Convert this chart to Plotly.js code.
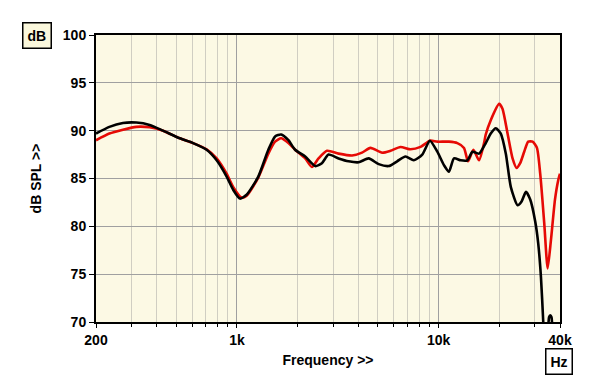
<!DOCTYPE html>
<html>
<head>
<meta charset="utf-8">
<script src="https://cdn.plot.ly/plotly-3.0.1.min.js"></script>
<style>html,body{margin:0;padding:0;background:#fff}#chart{width:600px;height:389px}</style>
</head>
<body>
<div id="chart"></div>
<script>
// Frequencies (Hz) and levels (dB SPL)
var blackFreq = [200,233,272,317,369,430,520,606,707,793,889,959,1035,1117,1276,1431,1546,1656,1800,1943,2180,2444,2638,2846,3192,3578,4014,4501,5047,5659,6230,6852,7536,8296,9055,9854,10628,11254,11920,12870,13897,14714,15873,17134,18140,19214,20348,21548,22820,24640,25796,27104,28470,30140,31200,32180,33040,33680,34700,35300,35800,36300,36900,37500,38640,40000];
var blackDB   = [89.7,90.4,90.8,90.85,90.6,90.0,89.2,88.7,88.0,86.9,85.2,83.8,82.9,83.3,85.2,88.0,89.4,89.6,89.0,88.0,87.3,86.3,86.6,87.5,87.1,86.8,86.7,87.1,86.5,86.3,86.8,87.3,86.9,87.5,88.95,87.8,86.4,85.7,87.1,86.9,86.9,87.8,87.6,88.7,89.7,90.25,89.7,87.6,84.1,82.2,82.6,83.6,82.8,80.5,78.2,74.7,70.0,66.0,68.0,70.5,70.7,70.5,68.0,66.0,64.0,64.0];

var redFreq = [200,233,272,317,369,430,520,606,707,793,889,959,1056,1117,1276,1431,1546,1656,1800,1943,2180,2353,2538,2796,3192,3722,4172,4590,5248,5772,6471,7258,8140,9055,9854,11254,12390,13366,13992,14880,15873,16804,17134,18140,19954,20740,21980,23270,24366,25380,26580,27830,29260,30740,31910,33420,34740,36090,37770,39220,40000];
var redDB   = [89.0,89.7,90.1,90.4,90.35,90.0,89.2,88.7,88.05,87.1,85.5,84.1,83.0,83.2,85.1,87.6,88.85,89.2,88.7,88.0,87.1,86.2,87.1,87.9,87.6,87.4,87.7,88.2,87.7,87.9,88.3,88.05,88.3,88.95,88.85,88.85,88.7,88.2,86.8,88.0,86.9,88.7,89.6,91.1,92.8,92.3,89.7,87.1,86.1,86.6,87.8,88.85,88.85,88.2,85.5,80.3,75.6,78.6,82.8,84.85,85.5];

var xTickVals = [200,1000,10000,40000];
var xTickText = ["200","1k","10k","40k"];
var xMinorVals = [300,400,500,600,700,800,900,2000,3000,4000,5000,6000,7000,8000,9000,20000,30000];

var traces = [
  {x: redFreq, y: redDB, type:'scatter', mode:'lines', line:{color:'#e60a05', width:2.6, shape:'spline', smoothing:0.6}, hoverinfo:'skip', cliponaxis:true},
  {x: blackFreq, y: blackDB, type:'scatter', mode:'lines', line:{color:'#000000', width:2.6, shape:'spline', smoothing:0.6}, hoverinfo:'skip', cliponaxis:true}
];

var tickFont = {family:'Liberation Sans, Arial, sans-serif', size:14, color:'#000', weight:'bold'};

var layout = {
  width:600, height:389,
  margin:{l:96, r:40, t:35, b:67},
  paper_bgcolor:'#ffffff',
  plot_bgcolor:'#fcf9e4',
  showlegend:false,
  xaxis:{
    type:'log', range:[Math.log10(200), Math.log10(40000)],
    tickmode:'array', tickvals:xTickVals, ticktext:xTickText,
    ticks:'outside', ticklen:4, tickwidth:1, tickcolor:'#000',
    showgrid:true, gridcolor:'#a0a0a0', gridwidth:1,
    minor:{tickvals:xMinorVals, ticks:'outside', ticklen:3, tickcolor:'#000', showgrid:true, gridcolor:'#d0cec2', gridwidth:1},
    showline:true, linecolor:'#000', linewidth:2, mirror:true,
    zeroline:false, tickfont:tickFont,
    title:{text:'Frequency >>', font:tickFont, standoff:8}
  },
  yaxis:{
    range:[70,100], dtick:5, tick0:70,
    ticks:'outside', ticklen:5, tickwidth:1, tickcolor:'#000',
    showgrid:true, gridcolor:'#a0a0a0', gridwidth:1,
    showline:true, linecolor:'#000', linewidth:2, mirror:true,
    zeroline:false, tickfont:tickFont,
    title:{text:'dB SPL >>', font:tickFont, standoff:18}
  },
  annotations:[
    {xref:'paper', yref:'paper', x:0, y:1.0, xanchor:'center', yanchor:'middle', xshift:-59, text:'dB', showarrow:false,
     font:tickFont, bgcolor:'#fbf8dc', bordercolor:'#000', borderwidth:1.5, borderpad:4},
    {xref:'paper', yref:'paper', x:1.0, y:0, xanchor:'center', yanchor:'middle', xshift:-1, yshift:-39, text:'Hz', showarrow:false,
     font:tickFont, bgcolor:'#ffffff', bordercolor:'#000', borderwidth:1.5, borderpad:4}
  ]
};

Plotly.newPlot('chart', traces, layout, {staticPlot:true, displayModeBar:false});
</script>
</body>
</html>
